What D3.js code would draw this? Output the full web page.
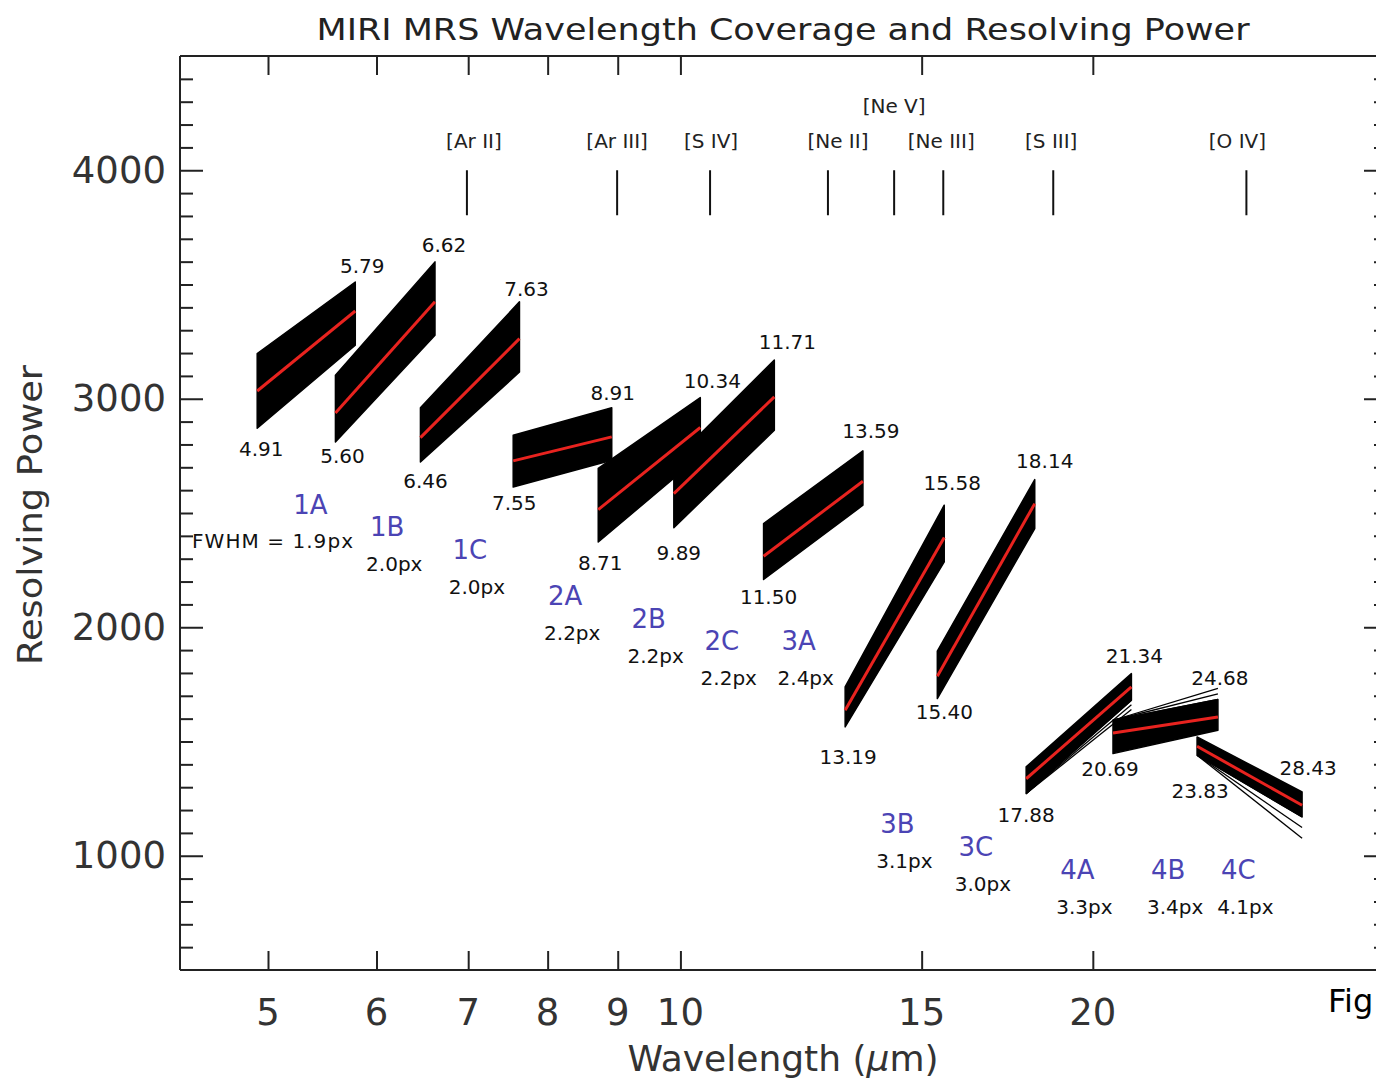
<!DOCTYPE html>
<html><head><meta charset="utf-8">
<script src="https://cdn.jsdelivr.net/npm/d3@7"></script>
<style>
html,body{margin:0;padding:0;background:#fff;overflow:hidden;}
svg{display:block;}
text{font-family:"DejaVu Sans",sans-serif;}
</style></head>
<body>
<svg id="chart" width="1376" height="1080"></svg>
<script>
// ---------------- DATA ----------------
const bandNames = ["1A","1B","1C","2A","2B","2C","3A","3B","3C","4A","4B","4C"];
const fwhm      = ["1.9px","2.0px","2.0px","2.2px","2.2px","2.2px","2.4px","3.1px","3.0px","3.3px","3.4px","4.1px"];
const wlStart   = [4.91,5.60,6.46,7.55,8.71,9.89,11.50,13.19,15.40,17.88,20.69,23.83];
const wlEnd     = [5.79,6.62,7.63,8.91,10.34,11.71,13.59,15.58,18.14,21.34,24.68,28.43];
const rMidStart = [3034,2938,2830,2728,2515,2585,2311,1637,1786,1337,1537,1479];
const rMidEnd   = [3384,3424,3263,2833,2874,3008,2639,2393,2541,1739,1607,1221];
const rTopStart = [3198,3103,2961,2840,2695,2731,2454,1739,1896,1389,1593,1520];
const rBotStart = [2871,2811,2723,2614,2373,2436,2209,1564,1688,1272,1447,1440];
const rTopEnd   = [3511,3599,3424,2961,3005,3169,2772,2534,2646,1797,1684,1279];
const rBotEnd   = [3234,3278,3117,2731,2750,2862,2534,2286,2432,1681,1549,1170];
// outlying single curves at the band end (null = none visible)
const rStrayEnd = [null,null,null,null,null,null,null,null,null,1640,1733,1077];

const lineNames = ["[Ar II]","[Ar III]","[S IV]","[Ne II]","[Ne V]","[Ne III]","[S III]","[O IV]"];
const lineWl    = [6.985,8.991,10.511,12.814,14.322,15.555,18.713,25.890];

const xTicks = [5,6,7,8,9,10,15,20];
const yTicks = [1000,2000,3000,4000];

// ---------------- LAYOUT (pixel nudges for labels) ----------------
const startOff = [[4,21],[7,14],[5,19],[1,16],[2,21],[5,25],[5,18],[3,30],[7,13],[0,21],[-3,15],[3,36]];
const endOff   = [[7,-16],[9,-17],[7,-13],[1,-15],[12,-17],[13,-18],[8,-20],[8,-22],[10,-19],[3,-18],[2,-21],[6,-24]];
// channel label anchors in data space [wavelength, R]
const chanPos  = [[5.37,2534],[6.11,2438],[7.02,2337],[8.24,2136],[9.48,2035],[10.72,1939],[12.20,1939],[14.40,1138],[16.43,1037],[19.49,937],[22.70,937],[25.54,937]];
const lineLabelDx = [7,0,1,10,0,-2,-2,-9];

// ---------------- CHART ----------------
const svg = d3.select("#chart");
const L = 180, R = 1387, T = 56, B = 970;
const x = d3.scaleLog().range([L, R])
  .domain([5 / Math.pow(10, (268 - L) / 1370), 5 * Math.pow(10, (R - 268) / 1370)]);
const y = d3.scaleLinear().domain([500, 4500]).range([B, T]);

const axisCol = "#222";
// Title
svg.append("text").attr("x", 783).attr("y", 29).attr("text-anchor","middle")
  .attr("dominant-baseline","central").attr("font-size",31).attr("fill","#222")
  .attr("textLength",933).attr("lengthAdjust","spacingAndGlyphs")
  .text("MIRI MRS Wavelength Coverage and Resolving Power");

// Frame
const g = svg.append("g");
g.append("line").attr("x1",L).attr("x2",R+2).attr("y1",T).attr("y2",T).attr("stroke",axisCol).attr("stroke-width",2);
g.append("line").attr("x1",L).attr("x2",R+2).attr("y1",B).attr("y2",B).attr("stroke",axisCol).attr("stroke-width",2);
g.append("line").attr("x1",L).attr("x2",L).attr("y1",T).attr("y2",B).attr("stroke",axisCol).attr("stroke-width",2);
g.append("line").attr("x1",R).attr("x2",R).attr("y1",T).attr("y2",B).attr("stroke",axisCol).attr("stroke-width",2);

// Y axes (left with labels, right mirrored)
const yMinor = d3.range(600, 4500, 100).filter(v => v % 1000 !== 0);
const yAxL = d3.axisRight(y).tickValues(yTicks).tickSize(23).tickFormat("");
const yAxLm = d3.axisRight(y).tickValues(yMinor).tickSize(13).tickFormat("");
const yAxR = d3.axisLeft(y).tickValues(yTicks).tickSize(23).tickFormat("");
const yAxRm = d3.axisLeft(y).tickValues(yMinor).tickSize(13).tickFormat("");
[[yAxL,L],[yAxLm,L],[yAxR,R],[yAxRm,R]].forEach(([ax,px]) => {
  const a = svg.append("g").attr("transform",`translate(${px},0)`).call(ax);
  a.select(".domain").remove();
  a.selectAll("line").attr("stroke",axisCol).attr("stroke-width",2);
});
svg.append("g").selectAll("text").data(yTicks).join("text")
  .attr("x",166).attr("y",d=>y(d)).attr("text-anchor","end").attr("dominant-baseline","central")
  .attr("font-size",37).attr("fill","#333").text(d=>d);

// X axes (bottom with labels, top mirrored)
const xAxB = d3.axisTop(x).tickValues(xTicks).tickSize(19).tickFormat("");
const xAxT = d3.axisBottom(x).tickValues(xTicks).tickSize(19).tickFormat("");
[[xAxB,B],[xAxT,T]].forEach(([ax,py]) => {
  const a = svg.append("g").attr("transform",`translate(0,${py})`).call(ax);
  a.select(".domain").remove();
  a.selectAll("line").attr("stroke",axisCol).attr("stroke-width",2);
});
svg.append("g").selectAll("text").data(xTicks).join("text")
  .attr("x",d=>x(d)).attr("y",1012).attr("text-anchor","middle").attr("dominant-baseline","central")
  .attr("font-size",37).attr("fill","#333").text(d=>d);

// Axis titles
const xt = svg.append("text").attr("x",783).attr("y",1058).attr("text-anchor","middle")
  .attr("dominant-baseline","central").attr("font-size",36).attr("fill","#333");
xt.append("tspan").text("Wavelength (");
xt.append("tspan").attr("font-style","italic").text("μ");
xt.append("tspan").text("m)");
svg.append("text").attr("transform","translate(30,515) rotate(-90)").attr("text-anchor","middle")
  .attr("dominant-baseline","central").attr("font-size",34).attr("fill","#333")
  .attr("textLength",300).attr("lengthAdjust","spacingAndGlyphs").text("Resolving Power");

// Emission line markers
const lines = svg.append("g");
lineWl.forEach((w,i) => {
  lines.append("line").attr("x1",x(w)).attr("x2",x(w)).attr("y1",y(4000)).attr("y2",y(4000)+45)
    .attr("stroke","#111").attr("stroke-width",2);
  lines.append("text").attr("x",x(w)+lineLabelDx[i]).attr("y", lineNames[i]==="[Ne V]" ? 106 : 141)
    .attr("text-anchor","middle").attr("dominant-baseline","central")
    .attr("font-size",20).attr("fill","#222").text(lineNames[i]);
});

// Bands
const bandG = svg.append("g");
bandNames.forEach((b,i) => {
  const poly = [[x(wlStart[i]),y(rTopStart[i])],[x(wlEnd[i]),y(rTopEnd[i])],
                [x(wlEnd[i]),y(rBotEnd[i])],[x(wlStart[i]),y(rBotStart[i])]];
  if (rStrayEnd[i] !== null) {
    const from = rStrayEnd[i] < rBotEnd[i] ? rBotStart[i] : rTopStart[i];
    const to = rStrayEnd[i] < rBotEnd[i] ? rBotEnd[i] : rTopEnd[i];
    [0, 0.5, 1].forEach(f => {
      bandG.append("line").attr("x1",x(wlStart[i])).attr("y1",y(from))
        .attr("x2",x(wlEnd[i])).attr("y2",y(to + (rStrayEnd[i]-to)*f))
        .attr("stroke","#000").attr("stroke-width",1.3);
    });
  }
  bandG.append("path").attr("d", d3.line()(poly)+"Z").attr("fill","#000")
    .attr("stroke","#000").attr("stroke-width",1.5).attr("stroke-linejoin","round");
  bandG.append("line").attr("x1",x(wlStart[i])).attr("y1",y(rMidStart[i]))
    .attr("x2",x(wlEnd[i])).attr("y2",y(rMidEnd[i]))
    .attr("stroke","#e8231f").attr("stroke-width",3);
  // start / end wavelength labels
  bandG.append("text").attr("x",x(wlStart[i])+startOff[i][0]).attr("y",y(rBotStart[i])+startOff[i][1])
    .attr("text-anchor","middle").attr("dominant-baseline","central").attr("font-size",20).attr("fill","#111")
    .text(wlStart[i].toFixed(2));
  bandG.append("text").attr("x",x(wlEnd[i])+endOff[i][0]).attr("y",y(rTopEnd[i])+endOff[i][1])
    .attr("text-anchor","middle").attr("dominant-baseline","central").attr("font-size",20).attr("fill","#111")
    .text(wlEnd[i].toFixed(2));
  // channel labels
  const cx = x(chanPos[i][0]), cy = y(chanPos[i][1]);
  bandG.append("text").attr("x",cx).attr("y",cy).attr("text-anchor","middle").attr("dominant-baseline","central")
    .attr("font-size",26).attr("fill","#4b44b4").text(b);
  if (i === 0) {
    bandG.append("text").attr("x",353).attr("y",cy+36).attr("text-anchor","end").attr("dominant-baseline","central")
      .attr("font-size",20).attr("fill","#111").attr("textLength",161).attr("lengthAdjust","spacing")
      .text("FWHM = " + fwhm[i]);
  } else {
    bandG.append("text").attr("x",cx+7).attr("y",cy+37).attr("text-anchor","middle").attr("dominant-baseline","central")
      .attr("font-size",20).attr("fill","#111").text(fwhm[i]);
  }
});

// Page caption fragment at the right edge
svg.append("text").attr("x",1328).attr("y",1001).attr("dominant-baseline","central")
  .attr("font-family","Liberation Sans, Arial, sans-serif").attr("font-size",32).attr("fill","#000")
  .text("Fig");
</script>
</body></html>
